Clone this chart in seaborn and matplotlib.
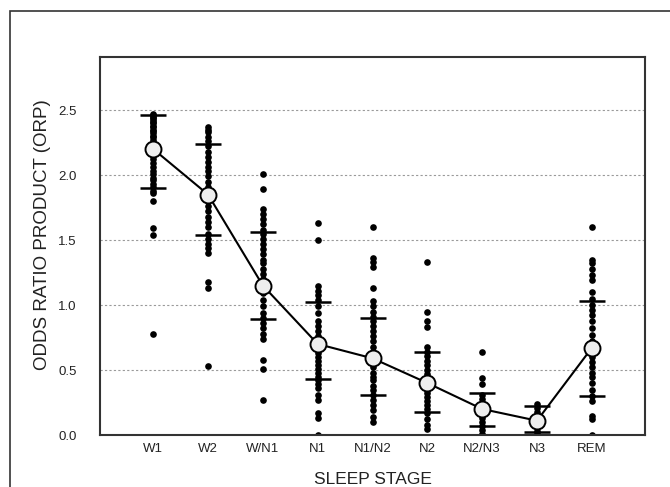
import numpy as np
import pandas as pd
import matplotlib
matplotlib.use("Agg")
import matplotlib.pyplot as plt
from matplotlib.patches import Rectangle
import seaborn as sns

stages = ["W1", "W2", "W/N1", "N1", "N1/N2", "N2", "N2/N3", "N3", "REM"]

w1 = [2.47, 2.46, 2.45, 2.44, 2.42, 2.41, 2.40, 2.38, 2.37, 2.35, 2.34, 2.32, 2.30, 2.29,
      2.27, 2.25, 2.23, 2.21, 2.18, 2.15, 2.12, 2.09, 2.06, 2.03, 2.01, 1.98, 1.96, 1.93,
      1.91, 1.88, 1.86, 1.80, 1.59, 1.54, 0.78]
w2 = [2.37, 2.35, 2.33, 2.29, 2.26, 2.22, 2.18, 2.14, 2.10, 2.06, 2.03, 1.99, 1.95, 1.91,
      1.87, 1.80, 1.76, 1.72, 1.68, 1.64, 1.60, 1.55, 1.51, 1.47, 1.44, 1.40, 1.18, 1.13, 0.53]
wn1 = [2.01, 1.89, 1.74, 1.70, 1.66, 1.62, 1.58, 1.55, 1.51, 1.47, 1.43, 1.39, 1.35, 1.32,
       1.28, 1.24, 1.20, 1.09, 1.04, 0.99, 0.94, 0.90, 0.86, 0.82, 0.78, 0.74, 0.58, 0.51, 0.27]
n1 = [1.63, 1.50, 1.15, 1.11, 1.08, 1.04, 0.99, 0.94, 0.88, 0.84, 0.80, 0.76, 0.72, 0.66,
      0.63, 0.60, 0.57, 0.54, 0.51, 0.48, 0.45, 0.42, 0.39, 0.36, 0.31, 0.27, 0.17, 0.13, 0.0]
n1n2 = [1.60, 1.36, 1.33, 1.29, 1.13, 1.03, 0.99, 0.95, 0.91, 0.88, 0.84, 0.80, 0.76, 0.72,
        0.68, 0.64, 0.60, 0.56, 0.52, 0.48, 0.45, 0.42, 0.38, 0.35, 0.31, 0.27, 0.23, 0.19,
        0.14, 0.10]
n2 = [1.33, 0.95, 0.88, 0.83, 0.68, 0.64, 0.61, 0.57, 0.54, 0.50, 0.47, 0.44, 0.41, 0.38,
      0.35, 0.32, 0.29, 0.26, 0.23, 0.20, 0.17, 0.12, 0.08, 0.05]
n2n3 = [0.64, 0.44, 0.39, 0.31, 0.28, 0.25, 0.22, 0.19, 0.16, 0.13, 0.10, 0.07, 0.04, 0.01, 0.0]
n3 = [0.24, 0.21, 0.18, 0.15, 0.12, 0.09, 0.06, 0.03, 0.01, 0.0]
rem = [1.60, 1.35, 1.32, 1.28, 1.23, 1.19, 1.10, 1.05, 1.00, 0.96, 0.92, 0.88, 0.82, 0.77,
       0.72, 0.60, 0.56, 0.52, 0.48, 0.45, 0.40, 0.35, 0.30, 0.26, 0.15, 0.12, 0.0]

means = [2.20, 1.85, 1.15, 0.70, 0.59, 0.40, 0.20, 0.11, 0.67]
sd_upper = [2.46, 2.24, 1.56, 1.02, 0.90, 0.64, 0.32, 0.22, 1.03]
sd_lower = [1.90, 1.54, 0.89, 0.43, 0.31, 0.18, 0.07, 0.02, 0.30]

yticks = [0.0, 0.5, 1.0, 1.5, 2.0, 2.5]

points = [w1, w2, wn1, n1, n1n2, n2, n2n3, n3, rem]
df = pd.DataFrame({
    "stage": np.repeat(stages, [len(p) for p in points]),
    "orp": np.concatenate(points),
})
df_mean = pd.DataFrame({"stage": stages, "orp": means})
df_sd = pd.DataFrame({"stage": stages * 2, "orp": sd_upper + sd_lower})

sns.set_style("white")
plt.rcParams["font.family"] = ["Liberation Sans", "DejaVu Sans"]

fig = plt.figure(figsize=(6.7, 4.87), dpi=100)
ax = fig.add_axes([100 / 670, 1 - 435 / 487, 545 / 670, 378 / 487])

sns.stripplot(data=df, x="stage", y="orp", order=stages, jitter=False, color="black",
              size=4.8, linewidth=0, ax=ax, zorder=2)
sns.stripplot(data=df_sd, x="stage", y="orp", order=stages, jitter=False, color="black",
              edgecolor="black", marker="_", size=19, linewidth=1.8, ax=ax, zorder=3)
sns.pointplot(data=df_mean, x="stage", y="orp", order=stages, errorbar=None, color="black",
              markers="o", markersize=11.5, markerfacecolor="#eeeeee",
              markeredgecolor="black", markeredgewidth=1.4, linewidth=1.5, ax=ax, zorder=5)

ax.set_xlim(-0.97, 8.97)
ax.set_ylim(0, 2.908)
ax.set_yticks(yticks)
ax.set_yticklabels([f"{v:.1f}" for v in yticks])
ax.yaxis.grid(True, linestyle=(0, (2, 2)), color="#9a9a9a", linewidth=0.8)
ax.set_axisbelow(True)

ax.tick_params(axis="y", length=0, pad=17, labelsize=9.5, labelcolor="#222222")
ax.tick_params(axis="x", direction="in", length=3, width=0.8, color="#999999",
               pad=6, labelsize=9.5, labelcolor="#222222")

ax.set_xlabel("SLEEP STAGE", fontsize=12.5, labelpad=12, color="#222222")
ax.set_ylabel("ODDS RATIO PRODUCT (ORP)", fontsize=13.5, color="#222222")
ax.yaxis.set_label_coords(-(100 - 51) / 545, (435 - 235) / 378)

for s in ax.spines.values():
    s.set_visible(True)
    s.set_color("#333333")
    s.set_linewidth(1.5)

fig.patches.append(Rectangle((10 / 670, -0.2), 1.5, 1.2 - 11 / 487, transform=fig.transFigure,
                             fill=False, edgecolor="#333333", linewidth=1.2))

fig.savefig("out.png", dpi=100)
